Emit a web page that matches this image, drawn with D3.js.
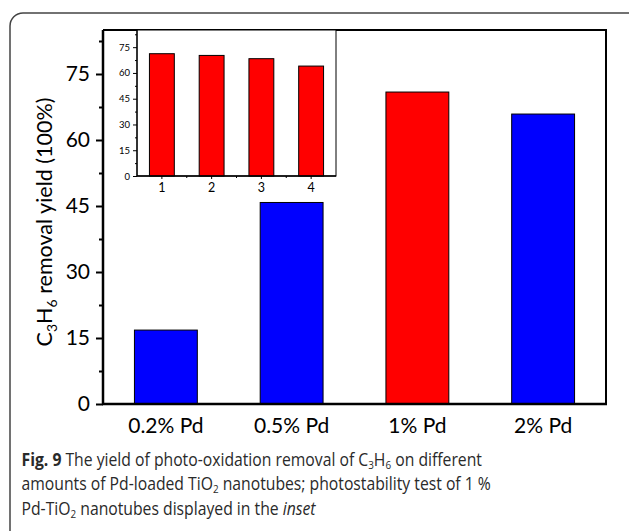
<html>
<head>
<meta charset="UTF-8">
<title>Fig. 9</title>
<script src="https://cdn.jsdelivr.net/npm/d3@7"></script>
<style>
  body { margin: 0; background: #fff; }
  svg { display: block; }
  .lbl { font-family: Lato, "Open Sans", sans-serif; fill: #000; }
  .cap { font-family: "Open Sans", "Noto Sans", sans-serif; fill: #2a2a2a; font-size: 17.5px; }
</style>
</head>
<body>
<svg id="fig" width="629" height="531"></svg>
<script>
// main chart data
var categories = ["0.2% Pd", "0.5% Pd", "1% Pd", "2% Pd"];
var yields = [16.8, 45.8, 70.9, 65.9];
var barColors = ["#0000ff", "#0000ff", "#ff0000", "#0000ff"];
var yTicks = [0, 15, 30, 45, 60, 75];
var yMinor = [7.5, 22.5, 37.5, 52.5, 67.5, 82.5];

// inset: photostability cycles of 1% Pd-TiO2
var cycles = ["1", "2", "3", "4"];
var cycleYields = [71.2, 70.2, 68.3, 64.0];

var svg = d3.select("#fig");

// outer rounded frame of the figure
svg.append("rect")
    .attr("x", 10).attr("y", 13)
    .attr("width", 640).attr("height", 540)
    .attr("rx", 13).attr("ry", 13)
    .attr("fill", "none").attr("stroke", "#444").attr("stroke-width", 1.5);

// ---------- main chart ----------
var L = 103, R = 606, T = 30, B = 404;
var x = d3.scaleBand().domain(categories).range([L, R]).paddingInner(0.5).paddingOuter(0.25);
var y = d3.scaleLinear().domain([0, 85]).range([B, T]);

var g = svg.append("g");

g.selectAll("rect.bar")
    .data(yields)
    .enter()
    .append("rect")
    .attr("class", "bar")
    .attr("x", function (d, i) { return x(categories[i]); })
    .attr("width", x.bandwidth())
    .attr("y", function (d) { return y(d); })
    .attr("height", function (d) { return B - y(d); })
    .attr("fill", function (d, i) { return barColors[i]; })
    .attr("stroke", "#000").attr("stroke-width", 1);

// top and right frame
g.append("path")
    .attr("d", "M" + L + "," + T + "H" + R + "V" + B)
    .attr("fill", "none").attr("stroke", "#000").attr("stroke-width", 2);

// y axis, major and minor ticks
var yAxis = g.append("g").attr("transform", "translate(" + L + ",0)")
    .call(d3.axisLeft(y).tickValues(yTicks).tickSize(7).tickPadding(6));
g.append("g").attr("transform", "translate(" + L + ",0)")
    .call(d3.axisLeft(y).tickValues(yMinor).tickSize(4).tickFormat(""))
    .select(".domain").remove();
yAxis.select(".domain").attr("d", "M0," + T + "V" + (B + 1)).attr("stroke-width", 2.5);
g.selectAll(".tick line").attr("stroke-width", 2);
yAxis.selectAll("text").attr("class", "lbl").attr("font-size", 21);

// x axis (no ticks)
var xAxis = g.append("g").attr("transform", "translate(0," + B + ")")
    .call(d3.axisBottom(x).tickSize(0).tickPadding(14));
xAxis.select(".domain").attr("d", "M" + (L - 1) + ",0H" + (R + 1)).attr("stroke-width", 2.5);
xAxis.selectAll("text").attr("class", "lbl").attr("font-size", 21);

// y label with subscripts
var ylab = g.append("text")
    .attr("class", "lbl")
    .attr("font-size", 21.5)
    .attr("text-anchor", "middle")
    .attr("transform", "translate(52,222) rotate(-90)");
ylab.append("tspan").text("C");
ylab.append("tspan").attr("dy", 5).attr("font-size", 14).text("3");
ylab.append("tspan").attr("dy", -5).text("H");
ylab.append("tspan").attr("dy", 5).attr("font-size", 14).text("6");
ylab.append("tspan").attr("dy", -5).text(" removal yield (100%)");

// ---------- inset ----------
var iL = 137, iR = 336, iT = 30, iB = 176;
var ix = d3.scaleBand().domain(cycles).range([iL, iR]).paddingInner(0.5).paddingOuter(0.25);
var iy = d3.scaleLinear().domain([0, 85]).range([iB, iT]);

var ins = svg.append("g");
ins.append("rect")
    .attr("x", iL).attr("y", iT).attr("width", iR - iL).attr("height", iB - iT)
    .attr("fill", "#fff").attr("stroke", "#000").attr("stroke-width", 1);

ins.selectAll("rect.ibar")
    .data(cycleYields)
    .enter()
    .append("rect")
    .attr("class", "ibar")
    .attr("x", function (d, i) { return ix(cycles[i]); })
    .attr("width", ix.bandwidth())
    .attr("y", function (d) { return iy(d); })
    .attr("height", function (d) { return iB - iy(d); })
    .attr("fill", "#ff0000")
    .attr("stroke", "#000").attr("stroke-width", 1);

var iyAxis = ins.append("g").attr("transform", "translate(" + iL + ",0)")
    .call(d3.axisLeft(iy).tickValues(yTicks).tickSize(4).tickPadding(3));
ins.append("g").attr("transform", "translate(" + iL + ",0)")
    .call(d3.axisLeft(iy).tickValues(yMinor).tickSize(2).tickFormat(""))
    .select(".domain").remove();
iyAxis.select(".domain").attr("d", "M0," + iT + "V" + iB).attr("stroke-width", 1.2);
iyAxis.selectAll("text").attr("class", "lbl").attr("font-size", 9.5);

var ixAxis = ins.append("g").attr("transform", "translate(0," + iB + ")")
    .call(d3.axisBottom(ix).tickSize(3).tickPadding(4));
ixAxis.select(".domain").attr("d", "M" + iL + ",0H" + iR).attr("stroke-width", 1.5);
ixAxis.selectAll("text").attr("class", "lbl").attr("font-size", 12.5);
// minor ticks between the cycles
ins.selectAll("line.between")
    .data(cycles.slice(1))
    .enter()
    .append("line")
    .attr("class", "between")
    .attr("x1", function (d) { return ix(d) - ix.step() * ix.paddingInner() / 2; })
    .attr("x2", function (d) { return ix(d) - ix.step() * ix.paddingInner() / 2; })
    .attr("y1", iB).attr("y2", iB + 2)
    .attr("stroke", "#000");

// ---------- caption ----------
var cap = svg.append("g").attr("class", "cap");
var l1 = cap.append("text").attr("x", 0).attr("y", 466);
l1.append("tspan").attr("font-weight", "bold").text("Fig. 9");
l1.append("tspan").text(" The yield of photo-oxidation removal of C");
l1.append("tspan").attr("dy", 3).attr("font-size", 11).text("3");
l1.append("tspan").attr("dy", -3).text("H");
l1.append("tspan").attr("dy", 3).attr("font-size", 11).text("6");
l1.append("tspan").attr("dy", -3).text(" on different");

var l2 = cap.append("text").attr("x", 0).attr("y", 490.5);
l2.append("tspan").text("amounts of Pd-loaded TiO");
l2.append("tspan").attr("dy", 3).attr("font-size", 11).text("2");
l2.append("tspan").attr("dy", -3).text(" nanotubes; photostability test of 1 %");

var l3 = cap.append("text").attr("x", 0).attr("y", 515);
l3.append("tspan").text("Pd-TiO");
l3.append("tspan").attr("dy", 3).attr("font-size", 11).text("2");
l3.append("tspan").attr("dy", -3).text(" nanotubes displayed in the ");
l3.append("tspan").attr("font-style", "italic").text("inset");

// squeeze caption horizontally so that the first line spans like the original
var w1 = l1.node().getComputedTextLength();
var sx = 461 / w1;
cap.attr("transform", "translate(21.5,0) scale(" + sx + ",1)");
</script>
</body>
</html>
